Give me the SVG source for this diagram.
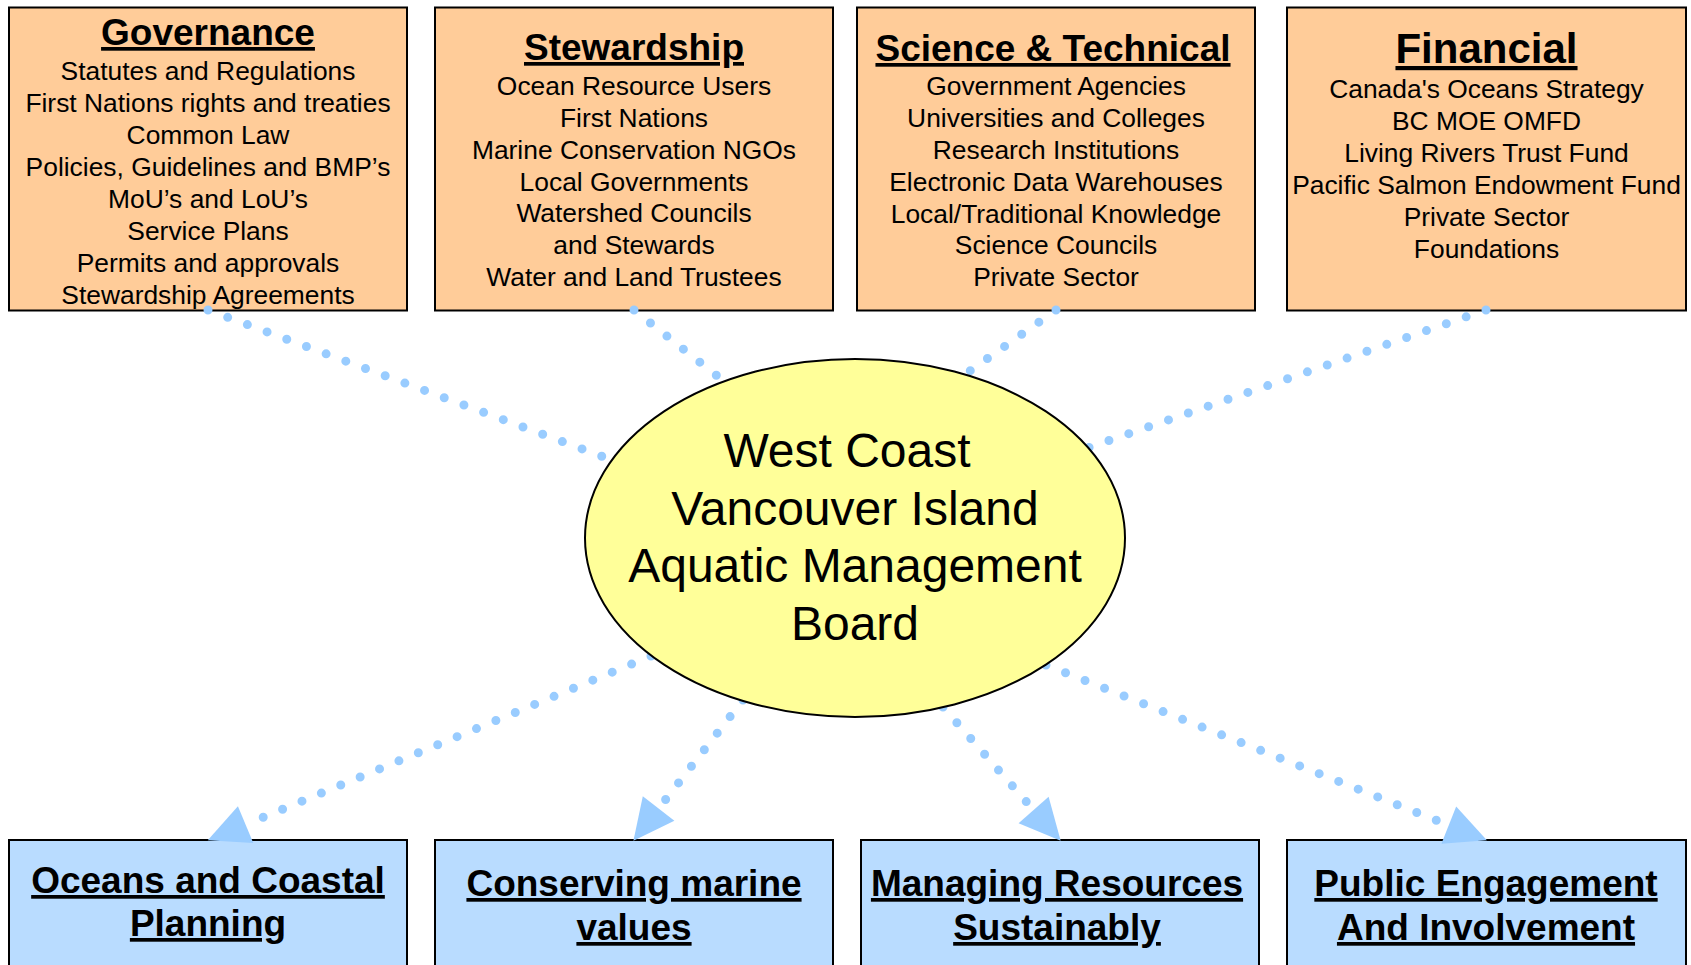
<svg xmlns="http://www.w3.org/2000/svg" width="1691" height="965" viewBox="0 0 1691 965">
<style>
  .top { fill: #FFCC99; stroke: #000; stroke-width: 2; }
  .bot { fill: #B9DCFF; stroke: #000; stroke-width: 2; }
  .ttl { font-family: "Liberation Sans", Arial, sans-serif; font-weight: bold; font-size: 37px; text-anchor: middle; text-decoration: underline; fill: #000; }
  .itm { font-family: "Liberation Sans", Arial, sans-serif; font-size: 26.4px; text-anchor: middle; fill: #000; }
  .ctr { font-family: "Liberation Sans", Arial, sans-serif; font-size: 48px; text-anchor: middle; fill: #000; }
  .dot { fill: none; stroke: #99CCFF; stroke-width: 9; stroke-linecap: round; stroke-dasharray: 0 21; }
</style>
<defs>
  <marker id="arr" markerUnits="userSpaceOnUse" markerWidth="42" markerHeight="42" refX="0" refY="20" orient="auto" overflow="visible">
    <path d="M0,0 L41,20 L0,40 z" fill="#99CCFF"/>
  </marker>
</defs>
<rect width="1691" height="965" fill="#fff"/>

<g id="governance">
  <rect class="top" x="9" y="7.5" width="398" height="303"/>
  <text class="ttl" x="208" y="45">Governance</text>
  <text class="itm" x="208" y="80">Statutes and Regulations</text>
  <text class="itm" x="208" y="112">First Nations rights and treaties</text>
  <text class="itm" x="208" y="144">Common Law</text>
  <text class="itm" x="208" y="176">Policies, Guidelines and BMP’s</text>
  <text class="itm" x="208" y="208">MoU’s and LoU’s</text>
  <text class="itm" x="208" y="240">Service Plans</text>
  <text class="itm" x="208" y="272">Permits and approvals</text>
  <text class="itm" x="208" y="304">Stewardship Agreements</text>
</g>

<g id="stewardship">
  <rect class="top" x="435" y="7.5" width="398" height="303"/>
  <text class="ttl" x="634" y="60">Stewardship</text>
  <text class="itm" x="634" y="95">Ocean Resource Users</text>
  <text class="itm" x="634" y="127">First Nations</text>
  <text class="itm" x="634" y="159">Marine Conservation NGOs</text>
  <text class="itm" x="634" y="191">Local Governments</text>
  <text class="itm" x="634" y="222">Watershed Councils</text>
  <text class="itm" x="634" y="254">and Stewards</text>
  <text class="itm" x="634" y="286">Water and Land Trustees</text>
</g>

<g id="science">
  <rect class="top" x="857" y="7.5" width="398" height="303"/>
  <text class="ttl" x="1053" y="61">Science &amp; Technical</text>
  <text class="itm" x="1056" y="95">Government Agencies</text>
  <text class="itm" x="1056" y="127">Universities and Colleges</text>
  <text class="itm" x="1056" y="159">Research Institutions</text>
  <text class="itm" x="1056" y="191">Electronic Data Warehouses</text>
  <text class="itm" x="1056" y="223">Local/Traditional Knowledge</text>
  <text class="itm" x="1056" y="254">Science Councils</text>
  <text class="itm" x="1056" y="286">Private Sector</text>
</g>

<g id="financial">
  <rect class="top" x="1287" y="7.5" width="399" height="303"/>
  <text class="ttl" x="1486.5" y="63" style="font-size:42px">Financial</text>
  <text class="itm" x="1486.5" y="98">Canada's Oceans Strategy</text>
  <text class="itm" x="1486.5" y="130">BC MOE OMFD</text>
  <text class="itm" x="1486.5" y="162">Living Rivers Trust Fund</text>
  <text class="itm" x="1486.5" y="194">Pacific Salmon Endowment Fund</text>
  <text class="itm" x="1486.5" y="226">Private Sector</text>
  <text class="itm" x="1486.5" y="258">Foundations</text>
</g>

<g id="oceans">
  <rect class="bot" x="9" y="840" width="398" height="140"/>
  <text class="ttl" x="208" y="893">Oceans and Coastal</text>
  <text class="ttl" x="208" y="936">Planning</text>
</g>

<g id="conserving">
  <rect class="bot" x="435" y="840" width="398" height="140"/>
  <text class="ttl" x="634" y="896">Conserving marine</text>
  <text class="ttl" x="634" y="940">values</text>
</g>

<g id="managing">
  <rect class="bot" x="861" y="840" width="398" height="140"/>
  <text class="ttl" x="1057" y="896">Managing Resources</text>
  <text class="ttl" x="1057" y="940">Sustainably</text>
</g>

<g id="public">
  <rect class="bot" x="1287" y="840" width="399" height="140"/>
  <text class="ttl" x="1486" y="896">Public Engagement</text>
  <text class="ttl" x="1486" y="940">And Involvement</text>
</g>

<g id="connectors">
  <path class="dot" d="M208,310 L620,463"/>
  <path class="dot" d="M634,310 L740,394"/>
  <path class="dot" d="M1056,310 L950,385"/>
  <path class="dot" d="M1486,310 L1070,454"/>
  <path class="dot" d="M651,656 L245.6,824.6" marker-end="url(#arr)"/>
  <path class="dot" d="M743,700 L658.6,808.5" marker-end="url(#arr)"/>
  <path class="dot" d="M943,707 L1033.6,810" marker-end="url(#arr)"/>
  <path class="dot" d="M1046,665 L1448.8,825.2" marker-end="url(#arr)"/>
</g>

<g id="board">
  <ellipse cx="855" cy="538" rx="270" ry="179" fill="#FFFF99" stroke="#000" stroke-width="2"/>
  <text class="ctr" x="847" y="467">West Coast</text>
  <text class="ctr" x="855" y="525">Vancouver Island</text>
  <text class="ctr" x="855" y="582">Aquatic Management</text>
  <text class="ctr" x="855" y="640">Board</text>
</g>
</svg>
